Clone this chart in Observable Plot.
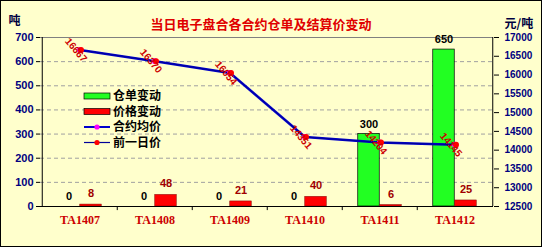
<!DOCTYPE html>
<html><head><meta charset="utf-8">
<script src="https://cdn.jsdelivr.net/npm/d3@7"></script>
<script src="https://cdn.jsdelivr.net/npm/@observablehq/plot@0.6"></script>
<style>
html,body{margin:0;padding:0;background:#fff;}
#wrap{position:relative;width:542px;height:247px;background:#FFFFCC;overflow:hidden}
#wrap svg.plot{position:absolute;left:0;top:0;}
#border{position:absolute;left:0;top:0;width:540px;height:245px;border:1px solid #000;pointer-events:none}
#legend{position:absolute;left:80px;top:86px;overflow:visible}
</style></head><body>
<div id="wrap"><div id="border"></div></div>
<script>
const categories = ["TA1407","TA1408","TA1409","TA1410","TA1411","TA1412"];
const warrantChange = [0,0,0,0,300,650];
const priceChange = [8,48,21,40,6,25];
const avgPrice = [16667,16370,16054,14351,14204,14145];
const prevPrice = [16667,16370,16054,14351,14204,14145];
const leftTicks = [0,100,200,300,400,500,600,700];
const rightTicks = [12500,13000,13500,14000,14500,15000,15500,16000,16500,17000];
const legendItems = ["仓单变动","价格变动","合约均价","前一日价"];
const title = "当日电子盘合各合约仓单及结算价变动";

const PMIN = 12500, PMAX = 17000, TMAX = 700;
const toT = p => (p - PMIN) / (PMAX - PMIN) * TMAX;
const data = categories.map((c,i)=>({cat:c, warrant:warrantChange[i], price:priceChange[i], avg:avgPrice[i], prev:prevPrice[i]}));

const W = 542, H = 247, ML = 40, MR = 49, MT = 37, MB = 41;
const bw = (W - ML - MR) / categories.length;
const barW = 22;
const cjk = "'Noto Sans CJK SC', sans-serif";
const num = "'Liberation Sans', Arial, sans-serif";

const plot = Plot.plot({
  width: W, height: H,
  marginLeft: ML, marginRight: MR, marginTop: MT, marginBottom: MB,
  style: {background: "transparent", overflow: "visible"},
  x: {type: "band", domain: categories, padding: 0},
  y: {domain: [0, TMAX]},
  marks: [
    Plot.ruleY(leftTicks.filter(t => t > 0 && t < TMAX), {stroke: "#a0a0a0", strokeDasharray: "4,3", strokeWidth: 1}),
    Plot.ruleY([TMAX], {stroke: "#808080"}),
    Plot.barY(data, {x: "cat", y: "warrant", fill: "#22ff22", stroke: "#000", strokeWidth: 0.7, insetLeft: bw/2 - barW, insetRight: bw/2}),
    Plot.barY(data, {x: "cat", y: "price", fill: "#ff0000", stroke: "#800000", strokeWidth: 0.5, insetLeft: bw/2, insetRight: bw/2 - barW}),
    Plot.text(data, {x: "cat", y: "warrant", text: d => String(d.warrant), dx: -barW/2, dy: -10, fill: "#000", fontWeight: "bold", fontSize: 11, fontFamily: num}),
    Plot.text(data, {x: "cat", y: "price", text: d => String(d.price), dx: barW/2, dy: -11, fill: "#a00000", fontWeight: "bold", fontSize: 11, fontFamily: num}),
    Plot.line(data, {x: "cat", y: d => toT(d.avg), stroke: "#0000cc", strokeWidth: 2.5}),
    Plot.line(data, {x: "cat", y: d => toT(d.prev), stroke: "#000099", strokeWidth: 1}),
    Plot.dot(data, {x: "cat", y: d => toT(d.avg), fill: "#ff00ff", r: 3}),
    Plot.dot(data, {x: "cat", y: d => toT(d.prev), fill: "#ff0000", r: 3, dx: 1}),
    Plot.text(data, {x: "cat", y: d => toT(d.avg), text: d => String(d.avg), rotate: 50, dx: -4, fill: "#cc0000", fontWeight: "bold", fontSize: 10, fontFamily: num}),
    Plot.ruleY([0], {stroke: "#000"}),
    Plot.ruleX([categories[0]], {dx: -bw/2, stroke: "#000"}),
    Plot.ruleX([categories[categories.length-1]], {dx: bw/2, stroke: "#000"}),
    Plot.ruleX(categories.slice(1), {dx: -bw/2, y1: 0, y2: -17, stroke: "#000"}),
    Plot.axisY({ticks: leftTicks, anchor: "left", tickSize: 4, tickPadding: 3, fill: "#000080", fontWeight: "bold", fontSize: 11, fontFamily: num, label: null}),
    Plot.axisY(rightTicks.map(toT), {anchor: "right", tickSize: 5, tickPadding: 6, tickFormat: t => String(Math.round(PMIN + t / TMAX * (PMAX - PMIN))), fill: "#000080", fontWeight: "bold", fontSize: 10, fontFamily: num, label: null}),
    Plot.axisX({tickSize: 0, tickPadding: 9, fill: "#cc0000", fontWeight: "bold", fontSize: 12, fontFamily: "'Liberation Serif', serif", label: null}),
    Plot.text([title], {frameAnchor: "top", dx: -6, dy: -18, fill: "#e00000", fontWeight: "bold", fontSize: 13, fontFamily: cjk}),
    Plot.text(["吨"], {frameAnchor: "top-left", dx: -32, dy: -21, textAnchor: "start", fill: "#000040", fontWeight: "bold", fontSize: 12, fontFamily: cjk}),
    Plot.text(["元/吨"], {frameAnchor: "top-right", dx: 11, dy: -18, textAnchor: "start", fill: "#000040", fontWeight: "bold", fontSize: 12, fontFamily: cjk})
  ]
});
const wrap = document.getElementById("wrap");
wrap.insertBefore(plot, wrap.firstChild);

// legend overlay
const lg = d3.select(wrap).append("svg").attr("id","legend").attr("width",150).attr("height",80);
legendItems.forEach((name,i)=>{
  const y = 10 + i*15.5;
  const g = lg.append("g").attr("transform",`translate(0,${y})`);
  if (i === 0) g.append("rect").attr("x",4).attr("y",-3).attr("width",26).attr("height",6).attr("fill","#22ff22").attr("stroke","#000").attr("stroke-width",0.7);
  else if (i === 1) g.append("rect").attr("x",4).attr("y",-3).attr("width",26).attr("height",6).attr("fill","#ff0000").attr("stroke","#000").attr("stroke-width",0.7);
  else {
    g.append("line").attr("x1",4).attr("x2",30).attr("y1",0).attr("y2",0).attr("stroke", i===2 ? "#0000cc" : "#000099").attr("stroke-width", i===2 ? 2 : 1.2);
    g.append("circle").attr("cx",17).attr("cy",0).attr("r",2.6).attr("fill", i===2 ? "#ff00ff" : "#ff0000");
  }
  g.append("text").attr("x",33).attr("y",0).attr("dy","0.36em").attr("font-family",cjk).attr("font-weight","bold").attr("font-size",12).attr("fill","#000").text(name);
});
</script>
</body></html>
